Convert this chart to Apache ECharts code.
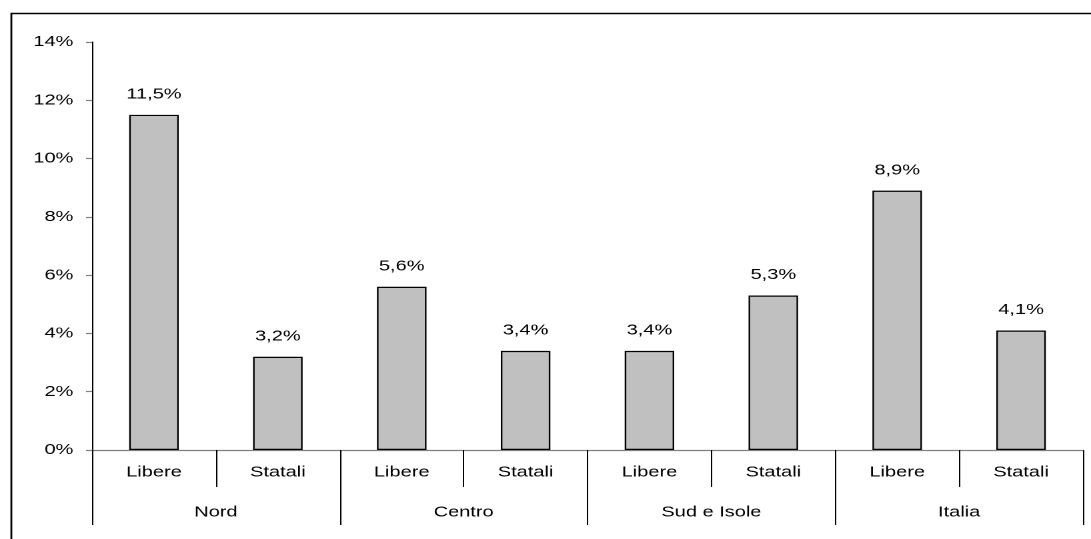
<!DOCTYPE html>
<html>
<head>
<meta charset="utf-8">
<script src="https://cdn.jsdelivr.net/npm/echarts@6/dist/echarts.min.js"></script>
<style>
  html, body { margin: 0; padding: 0; background: #fff; overflow: hidden; }
  /* the chart is laid out on a narrower canvas and widened to fill the page */
  #chart { width: 818px; height: 539px; transform: scaleX(1.33374); transform-origin: 0 0; }
</style>
</head>
<body>
<div id="chart"></div>
<script>
// Tipo di scuola per ciascuna area
const schoolTypes = ['Libere', 'Statali', 'Libere', 'Statali', 'Libere', 'Statali', 'Libere', 'Statali'];
// Aree geografiche (ognuna copre due colonne)
const areas = ['Nord', 'Centro', 'Sud e Isole', 'Italia'];
// Valori percentuali
const values = [11.5, 3.2, 5.6, 3.4, 3.4, 5.3, 8.9, 4.1];
// Asse verticale
const yMin = 0, yMax = 14, yStep = 2;

const font = 'Liberation Sans, Arial, sans-serif';
const chart = echarts.init(document.getElementById('chart'), null, { devicePixelRatio: 2 });

chart.setOption({
  animation: false,
  textStyle: { fontFamily: font, color: '#000' },
  graphic: [{
    type: 'rect',
    left: 6, top: 11,
    shape: { width: 2000, height: 2000 },
    style: { fill: 'none', stroke: '#000', lineWidth: 1.4 },
    silent: true
  }],
  grid: { left: 69, right: 6, top: 42, bottom: 89 },
  xAxis: [{
    type: 'category',
    data: schoolTypes,
    position: 'bottom',
    axisLine: { show: true, lineStyle: { color: '#808080', width: 1.2 } },
    axisTick: { show: true, length: 37, interval: 0, lineStyle: { color: '#000', width: 1 } },
    axisLabel: { fontSize: 15, color: '#000', margin: 15, interval: 0, fontFamily: font }
  }, {
    type: 'category',
    data: areas,
    position: 'bottom',
    axisLine: { show: false },
    axisTick: { show: true, length: 75, interval: 0, lineStyle: { color: '#000', width: 1 } },
    axisLabel: { fontSize: 15, color: '#000', margin: 55, interval: 0, fontFamily: font }
  }],
  yAxis: {
    type: 'value',
    min: yMin, max: yMax, interval: yStep,
    axisLine: { show: true, lineStyle: { color: '#000', width: 1 } },
    axisTick: { show: true, length: 4.5, lineStyle: { color: '#808080', width: 1.2 } },
    axisLabel: { fontSize: 15, color: '#000', margin: 14, formatter: '{value}%', fontFamily: font },
    splitLine: { show: false }
  },
  series: [{
    type: 'bar',
    xAxisIndex: 0,
    data: values,
    barWidth: '40%',
    itemStyle: { color: '#C0C0C0', borderColor: '#000', borderWidth: 1.2 },
    label: {
      show: true,
      position: 'top',
      distance: 13,
      fontSize: 15,
      color: '#000',
      fontFamily: font,
      formatter: p => p.value.toFixed(1).replace('.', ',') + '%'
    }
  }]
});
</script>
</body>
</html>
